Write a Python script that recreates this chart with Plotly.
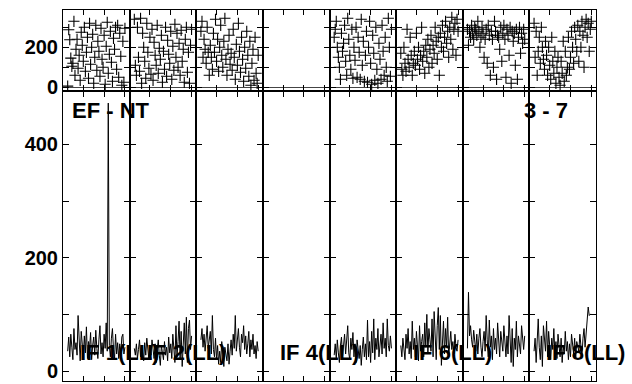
import plotly.graph_objects as go
from plotly.subplots import make_subplots

# ---------------- data ----------------
IF_NUMBERS = [1, 2, 3, 4, 5, 6, 7, 8]
FIRST_CHANNEL = 5
LABELLED_IFS = [1, 2, 4, 6, 8]
TITLE_LEFT = "EF - NT"
TITLE_RIGHT = "3 - 7"

PHASE = {
    1: [6, 288, 238, 146, 105, 120, 330, 60, 190, 240, 95, 160, 35, 275, 210, 130, 300, 80, 175, 250,
        45, 320, 115, 200, 265, 20, 150, 310, 85, 230, 180, 55, 295, 140, 100, 260, 15, 205, 325, 70,
        165, 280, 125, 30, 245, 190, 300, 90, 310, 50, 270, 155, 10, 230, 25, 295],
    2: [340, 110, 60, 300, 150, 80, 345, 20, 270, 200, 130, 45, 320, 175, 95, 250, 65, 290, 35, 225,
        160, 110, 310, 70, 195, 140, 260, 25, 180, 90, 300, 55, 235, 165, 120, 280, 40, 205, 85, 315,
        150, 270, 100, 220, 60, 285, 130, 190, 25, 240, 300, 75, 175, 20, 210, 290],
    3: [280, 330, 150, 240, 190, 120, 300, 175, 60, 210, 150, 90, 270, 175, 340, 130, 240, 80, 200, 310,
        160, 100, 230, 345, 140, 60, 190, 260, 115, 170, 85, 290, 150, 40, 215, 110, 320, 180, 75, 250,
        140, 30, 200, 95, 280, 160, 55, 230, 10, 120, 190, 35, 250, 70, 20, 160],
    4: [],
    5: [250, 290, 330, 200, 150, 100, 40, 270, 180, 220, 310, 130, 60, 345, 240, 160, 90, 290, 45, 200,
        135, 300, 50, 250, 175, 40, 340, 110, 230, 30, 160, 280, 25, 200, 330, 120, 15, 260, 170, 35,
        300, 90, 20, 220, 140, 40, 310, 180, 60, 250, 100, 30, 345, 200, 55, 290],
    6: [170, 90, 60, 200, 120, 80, 290, 140, 100, 250, 160, 60, 120, 180, 110, 270, 140, 200, 90, 160,
        300, 130, 180, 70, 210, 150, 240, 100, 190, 260, 120, 210, 170, 300, 230, 140, 250, 60, 270, 200,
        310, 180, 250, 330, 220, 280, 150, 300, 240, 350, 190, 290, 320, 160, 340, 280],
    7: [290, 210, 280, 250, 310, 270, 240, 300, 290, 260, 330, 280, 200, 250, 300, 270, 150, 240, 290, 120,
        310, 260, 60, 280, 240, 100, 330, 280, 40, 260, 250, 190, 300, 130, 270, 310, 240, 50, 290, 260,
        160, 300, 20, 280, 230, 270, 110, 290, 40, 250, 300, 170, 270, 220, 290, 240],
    8: [320, 150, 280, 60, 180, 250, 120, 300, 200, 140, 90, 230, 160, 60, 200, 110, 40, 250, 130, 70,
        180, 20, 100, 150, 50, 10, 130, 70, 230, 30, 180, 60, 100, 250, 90, 150, 280, 200, 120, 300,
        240, 180, 310, 130, 280, 200, 330, 260, 100, 300, 340, 250, 320, 180, 290, 330],
}

AMPLITUDE = {
    1: [35, 60, 25, 65, 42, 20, 75, 38, 50, 28, 98, 40, 18, 70, 45, 25, 62, 32, 78, 22,
        52, 38, 68, 20, 45, 60, 28, 72, 40, 22, 55, 80, 30, 50, 25, 65, 40, 85, 35, 473,
        45, 25, 58, 75, 38, 20, 65, 30, 50, 22, 48, 28, 60, 65, 30, 42],
    2: [40, 28, 48, 22, 38, 55, 25, 45, 32, 18, 50, 28, 58, 35, 20, 45, 28, 55, 32, 22,
        48, 15, 38, 55, 28, 10, 45, 32, 20, 52, 28, 42, 18, 60, 32, 48, 22, 65, 35, 15,
        80, 25, 52, 88, 20, 70, 8, 45, 85, 30, 95, 15, 75, 90, 38, 62],
    3: [55, 75, 42, 65, 35, 60, 80, 40, 52, 70, 30, 98, 38, 25, 58, 20, 45, 12, 35, 15,
        52, 25, 8, 42, 28, 18, 48, 12, 35, 55, 28, 65, 40, 98, 35, 58, 75, 42, 25, 65,
        50, 80, 38, 62, 30, 48, 70, 25, 55, 38, 65, 30, 45, 22, 52, 35],
    4: [],
    5: [28, 48, 22, 55, 32, 15, 45, 60, 25, 42, 65, 30, 50, 80, 32, 20, 58, 38, 68, 25,
        48, 15, 55, 32, 22, 45, 10, 38, 60, 25, 48, 20, 90, 25, 52, 15, 70, 32, 92, 20,
        58, 38, 75, 25, 50, 65, 30, 85, 40, 58, 25, 92, 45, 35, 62, 40],
    6: [45, 25, 58, 35, 20, 65, 40, 75, 30, 52, 22, 88, 38, 58, 25, 70, 45, 18, 80, 35,
        52, 65, 25, 85, 42, 100, 30, 75, 55, 35, 92, 25, 105, 50, 20, 80, 112, 38, 98, 10,
        62, 88, 30, 75, 42, 95, 25, 58, 70, 38, 52, 30, 65, 42, 35, 55],
    7: [40, 139, 62, 80, 55, 42, 72, 48, 35, 65, 30, 58, 75, 42, 25, 52, 70, 35, 98, 55,
        25, 90, 42, 62, 20, 75, 38, 58, 30, 85, 42, 25, 70, 50, 35, 80, 55, 25, 62, 30,
        98, 42, 15, 75, 8, 58, 38, 88, 25, 62, 42, 30, 80, 50, 38, 62],
    8: [35, 58, 15, 75, 92, 42, 20, 62, 8, 80, 50, 35, 88, 25, 70, 42, 20, 58, 38, 75,
        30, 52, 22, 65, 42, 25, 58, 15, 45, 30, 70, 35, 52, 20, 48, 25, 65, 38, 30, 58,
        22, 52, 42, 35, 65, 40, 25, 58, 75, 42, 62, 85, 113, 98, 100, 100],
}

PHASE_TICKS = [0, 100, 200, 300]
PHASE_TICKTEXT = ["0", "", "200", ""]
AMP_TICKS = [0, 100, 200, 300, 400]
AMP_TICKTEXT = ["0", "", "200", "", "400"]
CHAN_TICKS = [20, 40, 60]

# ---------------- figure ----------------
W, H = 632, 384
ML, MR, MT, MB = 63, 36, 10, 3
plot_h = H - MT - MB
plot_w = W - ML - MR

fig = make_subplots(rows=2, cols=8, horizontal_spacing=0,
                    vertical_spacing=2 / plot_h, row_heights=[80, 289])

for c, n in enumerate(IF_NUMBERS, start=1):
    ph = PHASE[n]
    am = AMPLITUDE[n]
    fig.add_trace(go.Scatter(
        x=list(range(FIRST_CHANNEL, FIRST_CHANNEL + len(ph))), y=ph, mode="markers",
        marker=dict(symbol="cross-thin", size=8, color="black",
                    line=dict(width=1.1, color="black")),
        showlegend=False, hoverinfo="skip"), row=1, col=c)
    fig.add_trace(go.Scatter(
        x=list(range(FIRST_CHANNEL, FIRST_CHANNEL + len(am))), y=am, mode="lines",
        line=dict(color="black", width=1),
        showlegend=False, hoverinfo="skip"), row=2, col=c)

tickfont = dict(family="Liberation Sans", size=20, color="black", weight="bold")
axis_common = dict(showline=True, linecolor="black", linewidth=1, mirror="allticks",
                   ticks="inside", tickcolor="black", showgrid=False, fixedrange=True,
                   automargin=False)

for c in range(1, 9):
    for r in (1, 2):
        fig.update_xaxes(range=[0.5, 64.5], tickvals=CHAN_TICKS, ticklen=5,
                         showticklabels=False, zeroline=False, row=r, col=c, **axis_common)
    fig.update_yaxes(range=[-13.5, 386.5], tickvals=PHASE_TICKS, ticktext=PHASE_TICKTEXT,
                     ticklen=6, showticklabels=(c == 1), tickfont=tickfont,
                     zeroline=True, zerolinecolor="#444", zerolinewidth=1,
                     row=1, col=c, **axis_common)
    fig.update_yaxes(range=[-17.6, 492.5], tickvals=AMP_TICKS, ticktext=AMP_TICKTEXT,
                     ticklen=6, showticklabels=(c == 1), tickfont=tickfont,
                     zeroline=False, row=2, col=c, **axis_common)

labfont = dict(family="Liberation Sans", size=22, color="black", weight="bold")
annotations = []
for n in LABELLED_IFS:
    annotations.append(dict(
        text=f"IF {n}(LL)", xref="paper", yref="paper",
        x=(n - 1) / 8 + 15 / plot_w, y=(H - MB - 352) / plot_h,
        xanchor="left", yanchor="middle", showarrow=False, font=labfont))
annotations.append(dict(text=TITLE_LEFT, xref="paper", yref="paper",
                        x=7 / plot_w, y=(H - MB - 111) / plot_h,
                        xanchor="left", yanchor="middle", showarrow=False, font=labfont))
annotations.append(dict(text=TITLE_RIGHT, xref="paper", yref="paper",
                        x=(521.5 - ML) / plot_w, y=(H - MB - 111) / plot_h,
                        xanchor="left", yanchor="middle", showarrow=False, font=labfont))

fig.update_layout(width=W, height=H, margin=dict(l=ML, r=MR, t=MT, b=MB),
                  paper_bgcolor="white", plot_bgcolor="white",
                  annotations=annotations, showlegend=False)

fig.write_html("out.html", config={"displayModeBar": False},
               post_script="document.body.style.margin='0';document.body.style.overflow='hidden';")
